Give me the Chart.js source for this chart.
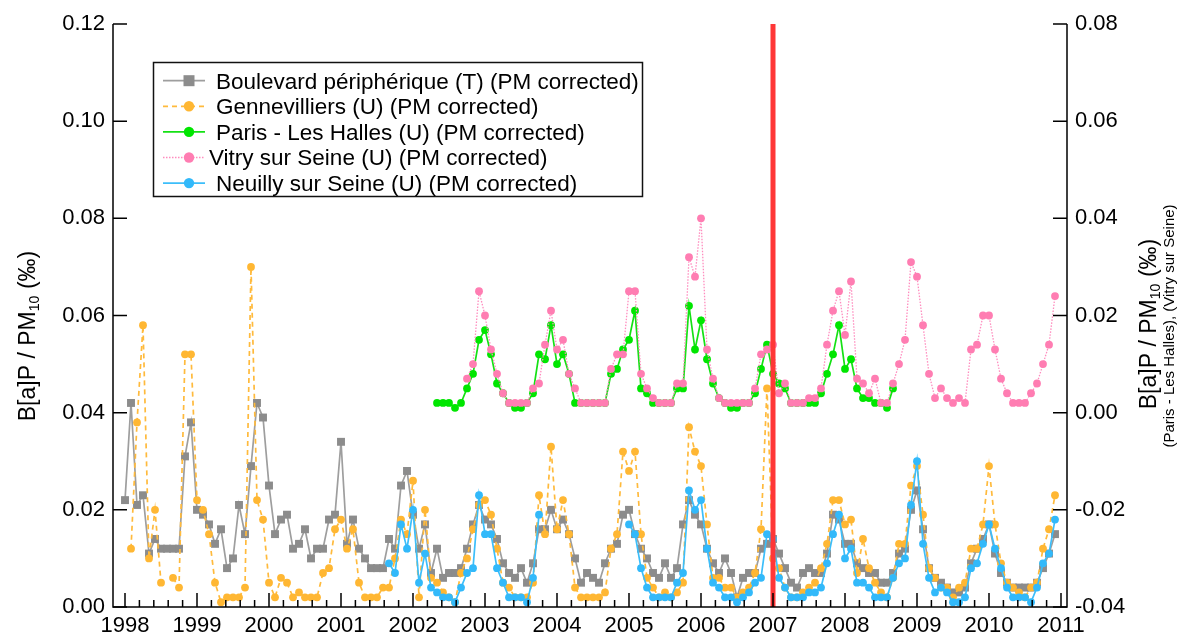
<!DOCTYPE html>
<html><head><meta charset="utf-8">
<script src="https://cdn.jsdelivr.net/npm/chart.js@4.4.1/dist/chart.umd.min.js"></script>
<style>html,body{margin:0;padding:0;background:#fff;}canvas{display:block;}</style>
</head><body>
<canvas id="c" width="1184" height="638"></canvas>
<script>
// ---------- data (monthly values, Jan 1998 .. Dec 2010) ----------
const startYear = 1998;
const yearTicks = [1998,1999,2000,2001,2002,2003,2004,2005,2006,2007,2008,2009,2010,2011];
const leftTicks = [0.00,0.02,0.04,0.06,0.08,0.10,0.12];
const rightTicks = [-0.04,-0.02,0.00,0.02,0.04,0.06,0.08];
const markerYear = 2007;
const N = null;

// Boulevard périphérique (left axis)
const boulevard = [
 0.022,0.042,0.021,0.023,0.011,0.014,0.012,0.012,0.012,0.012,0.031,0.038,
 0.020,0.019,0.017,0.013,0.016,0.008,0.010,0.021,0.015,0.029,0.042,0.039,
 0.025,0.015,0.018,0.019,0.012,0.013,0.016,0.010,0.012,0.012,0.018,0.019,
 0.034,0.013,0.018,0.012,0.010,0.008,0.008,0.008,0.014,0.012,0.025,0.028,
 0.019,0.012,0.017,0.007,0.012,0.006,0.007,0.007,0.008,0.012,0.017,0.021,
 0.018,0.017,0.014,0.009,0.007,0.006,0.008,0.005,0.009,0.016,0.016,0.020,
 0.016,0.018,0.015,0.010,0.005,0.007,0.006,0.005,0.009,0.012,0.013,0.019,
 0.020,0.015,0.012,0.010,0.007,0.006,0.009,0.006,0.008,0.017,0.022,0.019,
 0.017,0.012,0.009,0.007,0.010,0.007,0.002,0.006,0.007,0.007,0.012,0.013,
 0.014,0.011,0.008,0.005,0.004,0.007,0.008,0.007,0.007,0.011,0.019,0.018,
 0.013,0.013,0.009,0.008,0.007,0.007,0.005,0.005,0.007,0.011,0.012,0.020,
 0.024,0.016,0.008,0.006,0.005,0.004,0.003,0.003,0.004,0.009,0.012,0.014,
 0.017,0.011,0.007,0.005,0.004,0.004,0.004,0.004,0.005,0.008,0.011,0.015
];
// Gennevilliers (left axis)
const gennevilliers = [
 N,    0.012,0.038,0.058,0.010,0.020,0.005,N,    0.006,0.004,0.052,0.052,
 0.022,0.020,0.015,0.005,0.001,0.002,0.002,0.002,0.004,0.070,0.022,0.018,
 0.005,0.002,0.006,0.005,0.002,0.003,0.002,0.002,0.002,0.007,0.008,0.016,
 0.018,0.012,0.016,0.005,0.002,0.002,0.002,0.004,0.004,0.010,0.018,0.015,
 0.026,0.002,0.020,0.006,0.005,0.003,0.002,0.001,0.007,0.010,0.016,0.021,
 0.022,0.019,0.012,0.005,0.004,0.002,0.002,0.002,0.005,0.023,0.015,0.033,
 0.016,0.022,0.015,0.004,0.002,0.002,0.002,0.002,0.003,0.012,0.015,0.032,
 0.028,0.032,0.015,0.006,0.004,0.002,0.003,0.002,0.003,0.005,0.037,0.032,
 0.029,0.017,0.006,0.006,0.004,0.004,0.002,0.003,0.004,0.007,0.016,0.045,
 0.010,0.008,0.004,0.002,0.002,0.003,0.004,0.005,0.008,0.013,0.022,0.022,
 0.017,0.018,0.007,0.014,0.008,0.005,0.003,0.002,0.006,0.013,0.013,0.025,
 0.029,0.019,0.008,0.006,0.004,0.004,0.002,0.004,0.005,0.012,0.012,0.017,
 0.029,0.017,0.009,0.005,0.004,0.003,0.002,0.004,0.005,0.012,0.016,0.023
];
// Paris - Les Halles (right axis)
const parisHalles = [
 N,N,N,N,N,N,N,N,N,N,N,N,
 N,N,N,N,N,N,N,N,N,N,N,N,
 N,N,N,N,N,N,N,N,N,N,N,N,
 N,N,N,N,N,N,N,N,N,N,N,N,
 N,    N,    N,    N,    0.002,0.002,0.002,0.001,0.002,0.005,0.008,0.015,
 0.017,0.012,0.006,0.004,0.002,0.001,0.001,0.002,0.004,0.012,0.011,0.018,
 0.010,0.012,0.008,0.002,0.002,0.002,0.002,0.002,0.002,0.008,0.009,0.013,
 0.015,0.021,0.005,0.004,0.002,0.002,0.002,0.002,0.005,0.005,0.022,0.013,
 0.019,0.011,0.006,0.003,0.002,0.001,0.001,0.002,0.002,0.004,0.009,0.014,
 0.008,0.006,0.005,0.002,0.002,0.002,0.002,0.002,0.004,0.008,0.012,0.018,
 0.009,0.011,0.005,0.003,0.003,0.002,0.002,0.001,0.005,N,    N,    N
];
// Vitry sur Seine (right axis)
const vitry = [
 N,N,N,N,N,N,N,N,N,N,N,N,
 N,N,N,N,N,N,N,N,N,N,N,N,
 N,N,N,N,N,N,N,N,N,N,N,N,
 N,N,N,N,N,N,N,N,N,N,N,N,
 N,    N,    N,    N,    N,    N,    N,    N,    N,    0.007,0.010,0.025,
 0.020,0.013,0.008,0.004,0.002,0.002,0.002,0.002,0.005,0.006,0.014,0.021,
 0.013,0.015,0.008,0.005,0.002,0.002,0.002,0.002,0.002,0.009,0.012,0.012,
 0.025,0.025,0.008,0.005,0.003,0.002,0.002,0.002,0.006,0.006,0.032,0.028,
 0.040,0.013,0.007,0.003,0.002,0.002,0.002,0.002,0.002,0.005,0.012,0.013,
 0.014,0.004,0.006,0.002,0.002,0.002,0.003,0.003,0.005,0.014,0.021,0.025,
 0.016,0.027,0.007,0.006,0.004,0.007,0.002,0.002,0.006,0.010,0.015,0.031,
 0.028,0.018,0.008,0.003,0.005,0.003,0.002,0.003,0.002,0.013,0.014,0.020,
 0.020,0.013,0.007,0.004,0.002,0.002,0.002,0.004,0.006,0.010,0.014,0.024
];
// Neuilly sur Seine (left axis)
const neuilly = [
 N,N,N,N,N,N,N,N,N,N,N,N,
 N,N,N,N,N,N,N,N,N,N,N,N,
 N,N,N,N,N,N,N,N,N,N,N,N,
 N,    N,    N,    N,    N,    N,    N,    N,    0.009,0.007,0.017,0.012,
 0.020,0.005,0.011,0.004,0.003,0.002,0.002,0.001,0.004,0.007,0.008,0.023,
 0.015,0.015,0.008,0.005,0.002,0.002,0.002,0.001,0.006,0.019,N,    N,
 N,N,N,N,N,N,N,N,N,N,N,N,
 0.017,0.015,0.008,0.004,0.002,0.002,0.002,0.002,0.005,0.007,0.024,0.020,
 0.022,0.012,0.005,0.004,0.002,0.002,0.001,0.002,0.003,0.005,0.006,0.015,
 0.014,0.006,0.004,0.002,0.002,0.002,0.003,0.003,0.004,0.009,0.015,0.019,
 0.010,0.012,0.005,0.005,0.004,0.002,0.002,0.002,0.006,0.009,0.010,0.021,
 0.030,0.013,0.006,0.003,0.004,0.003,0.001,0.001,0.002,0.008,0.009,0.013,
 0.017,0.012,0.008,0.004,0.002,0.002,0.002,0.001,0.004,0.009,0.011,0.018
];

// ---------- helpers ----------
function toPoints(vals){ return vals.map((v,i)=>({x:startYear + i/12, y:v})); }
function fmt(v){ const r=Math.round(v*100)/100; return (r===0?0:r).toFixed(2); }

Chart.defaults.font.family = "'Liberation Sans', Arial, sans-serif";
Chart.defaults.font.size = 22;
Chart.defaults.color = '#000';

function series(label, vals, axis, line, point, opts){
  return Object.assign({
    label, data: toPoints(vals), yAxisID: axis,
    borderColor: line, backgroundColor: point,
    pointBackgroundColor: point, pointBorderColor: point, pointBorderWidth: 0,
    pointStyle: 'circle', pointRadius: 3.9, borderWidth: 1.7, spanGaps: false, tension: 0
  }, opts||{});
}

const datasets = [
  series('Boulevard périphérique (T) (PM corrected)', boulevard, 'y', 'rgb(158,158,158)', 'rgb(140,140,140)', {pointStyle:'rect', pointRadius:5.6, order:5}),
  series('Gennevilliers (U) (PM corrected)', gennevilliers, 'y', 'rgb(255,186,60)', 'rgb(255,183,51)', {borderDash:[5,4], order:4}),
  series('Paris - Les Halles (U) (PM corrected)', parisHalles, 'y2', 'rgb(20,225,20)', 'rgb(0,230,0)', {order:3}),
  series('Vitry sur Seine (U) (PM corrected)', vitry, 'y2', 'rgb(255,140,190)', 'rgb(255,125,178)', {borderDash:[1.5,1.5], borderWidth:1.3, order:2}),
  series('Neuilly sur Seine (U) (PM corrected)', neuilly, 'y', 'rgb(60,190,250)', 'rgb(50,185,250)', {order:1}),
  {label:'marker', data:[{x:markerYear,y:0},{x:markerYear,y:0.12}], yAxisID:'y', borderColor:'rgb(255,55,55)', borderWidth:5, pointRadius:0, order:0, isMarker:true}
];

function drawTitle(ctx, cx, cy, size){
  const parts=[{t:'B[a]P / PM',s:size,dy:0},{t:'10',s:size*0.62,dy:size*0.28},{t:' (\u2030)',s:size,dy:0}];
  let w=0; parts.forEach(p=>{ctx.font=p.s+"px 'Liberation Sans', Arial, sans-serif"; p.w=ctx.measureText(p.t).width; w+=p.w;});
  ctx.save(); ctx.translate(cx,cy); ctx.rotate(-Math.PI/2);
  ctx.fillStyle='#000'; ctx.textBaseline='middle'; ctx.textAlign='left';
  let x=-w/2;
  parts.forEach(p=>{ctx.font=p.s+"px 'Liberation Sans', Arial, sans-serif"; ctx.fillText(p.t,x,p.dy); x+=p.w;});
  ctx.restore();
}

const decor = {
  id:'decor',
  afterDatasetsDraw(chart){
    const {ctx, chartArea:a, scales} = chart;
    ctx.save();
    ctx.strokeStyle='#000'; ctx.lineWidth=1.5; ctx.setLineDash([]);
    ctx.beginPath();
    ctx.moveTo(a.left,a.top); ctx.lineTo(a.left,a.bottom); ctx.lineTo(a.right,a.bottom); ctx.lineTo(a.right,a.top);
    ctx.stroke();
    ctx.beginPath();
    leftTicks.forEach(v=>{const y=scales.y.getPixelForValue(v); ctx.moveTo(a.left,y); ctx.lineTo(a.left+14,y);});
    rightTicks.forEach(v=>{const y=scales.y2.getPixelForValue(v); ctx.moveTo(a.right,y); ctx.lineTo(a.right-14,y);});
    for(let i=yearTicks[0]*5;i<=yearTicks[yearTicks.length-1]*5;i++){
      const x=scales.x.getPixelForValue(i/5); const len=(i%5===0)?14:7;
      ctx.moveTo(x,a.bottom); ctx.lineTo(x,a.bottom-len);
    }
    ctx.stroke();
    ctx.restore();
  },
  afterDraw(chart){
    const {ctx} = chart;
    ctx.save();
    // axis titles
    drawTitle(ctx, 29, 336, 23);
    drawTitle(ctx, 1150, 324, 23);
    ctx.save(); ctx.translate(1170,326); ctx.rotate(-Math.PI/2);
    ctx.font="15px 'Liberation Sans', Arial, sans-serif"; ctx.textAlign='center'; ctx.textBaseline='middle'; ctx.fillStyle='#000';
    ctx.fillText('(Paris - Les Halles), (Vitry sur Seine)',0,0);
    ctx.restore();
    // legend box
    const box={x:153.5,y:62.5,w:489,h:134};
    ctx.fillStyle='#fff'; ctx.fillRect(box.x,box.y,box.w,box.h);
    ctx.strokeStyle='#111'; ctx.lineWidth=1.5; ctx.strokeRect(box.x,box.y,box.w,box.h);
    const textX=[216,216,216,209,216];
    chart.data.datasets.filter(d=>!d.isMarker).forEach((d,i)=>{
      const base=88.5+i*25.6, cy=base-7.8;
      ctx.save();
      ctx.strokeStyle=d.borderColor; ctx.lineWidth=d.borderWidth; ctx.setLineDash(d.borderDash||[]);
      ctx.beginPath(); ctx.moveTo(163,cy); ctx.lineTo(205,cy); ctx.stroke();
      ctx.setLineDash([]); ctx.fillStyle=d.pointBackgroundColor;
      if(d.pointStyle==='rect'){ ctx.fillRect(189-5.5,cy-5.5,11,11); }
      else { ctx.beginPath(); ctx.arc(189,cy,5.2,0,Math.PI*2); ctx.fill(); }
      ctx.restore();
      ctx.fillStyle='#000'; ctx.font="22.5px 'Liberation Sans', Arial, sans-serif";
      ctx.textBaseline='alphabetic'; ctx.textAlign='left';
      ctx.fillText(d.label,textX[i],base);
    });
    ctx.restore();
  }
};

const tickFont={size:22};
new Chart(document.getElementById('c'),{
  type:'line',
  data:{datasets},
  options:{
    responsive:false, animation:false, devicePixelRatio:1,
    layout:{padding:{top:24,left:0,right:0,bottom:0}},
    plugins:{legend:{display:false}, tooltip:{enabled:false}},
    scales:{
      x:{type:'linear', min:1997.8333, max:2011.0833,
         afterBuildTicks:s=>{s.ticks=yearTicks.map(v=>({value:v}));},
         ticks:{autoSkip:false, maxRotation:0, padding:6, font:tickFont, callback:v=>String(v)},
         grid:{display:false, drawTicks:false}, border:{display:false},
         afterFit:s=>{s.height=31;}},
      y:{type:'linear', position:'left', min:0, max:0.12,
         afterBuildTicks:s=>{s.ticks=leftTicks.map(v=>({value:v}));},
         ticks:{padding:8, font:tickFont, callback:v=>fmt(v)},
         grid:{display:false, drawTicks:false}, border:{display:false},
         afterFit:s=>{s.width=113;}},
      y2:{type:'linear', position:'right', min:-0.04, max:0.08,
         afterBuildTicks:s=>{s.ticks=rightTicks.map(v=>({value:v}));},
         ticks:{padding:8, font:tickFont, callback:v=>fmt(v)},
         grid:{display:false, drawTicks:false}, border:{display:false},
         afterFit:s=>{s.width=117;}}
    }
  },
  plugins:[decor]
});
</script>
</body></html>
